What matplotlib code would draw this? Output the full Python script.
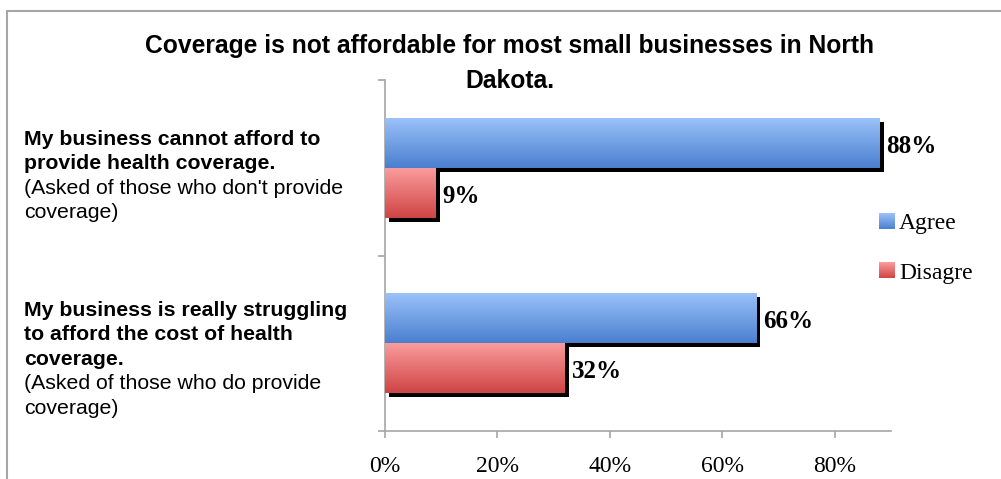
import numpy as np
import matplotlib
matplotlib.use('Agg')
import matplotlib.pyplot as plt
from matplotlib.colors import LinearSegmentedColormap
from matplotlib.patches import Patch, Rectangle
from matplotlib.legend_handler import HandlerBase
from matplotlib.image import BboxImage
from matplotlib.transforms import Bbox, TransformedBbox
import matplotlib.patheffects as pe

# Datos del grafico
series = ['Agree', 'Disagre']
agree = [88, 66]
disagree = [9, 32]
x_ticks = [0, 20, 40, 60, 80]

titulo = ['Coverage is not affordable for most small businesses in North', 'Dakota.']
cat_bold = [['My business cannot afford to', 'provide health coverage.'],
            ['My business is really struggling', 'to afford the cost of health', 'coverage.']]
cat_note = [["(Asked of those who don't provide", 'coverage)'],
            ['(Asked of those who do provide', 'coverage)']]

W, H = 1001, 479
fig = plt.figure(figsize=(W / 100, H / 100), dpi=100)

# marco gris del grafico
fig.add_artist(Rectangle((7 / W, -0.1), 1.2, 1 - 11 / H + 0.1, transform=fig.transFigure,
                         fill=False, edgecolor='#a6a6a6', linewidth=1.5))

ax = fig.add_axes([385 / W, 1 - 431 / H, (891 - 385) / W, (431 - 80) / H])

colores = {'Agree': ('#9cc3fa', '#4a7fcf'), 'Disagre': ('#fb9e9e', '#cf4444')}
medio = {'Agree': '#6f9de6', 'Disagre': '#e77070'}
cmaps = {n: LinearSegmentedColormap.from_list(n, colores[n]) for n in series}
grad = np.linspace(0, 1, 256).reshape(-1, 1)

y = np.arange(len(agree))
h = 0.285
barras = []
for vals, off, nombre in [(agree, -h / 2, 'Agree'), (disagree, h / 2, 'Disagre')]:
    b = ax.barh(y + off, vals, height=h, color=medio[nombre], linewidth=0, zorder=2)
    for r in b:
        r.set_path_effects([pe.SimplePatchShadow(offset=(3, -3), shadow_rgbFace='black', alpha=1.0),
                            pe.Normal()])
    barras.append((b, nombre))

# degradado de cada barra
for b, nombre in barras:
    for r in b:
        x0, y0 = r.get_x(), r.get_y()
        im = ax.imshow(grad, cmap=cmaps[nombre], aspect='auto', origin='upper',
                       extent=(x0, x0 + r.get_width(), y0 + r.get_height(), y0),
                       zorder=3, interpolation='bilinear')
        im.set_clip_path(r)

# etiquetas de valores
for b, nombre in barras:
    for r in b:
        v = r.get_width()
        ax.text(v + 1.2, r.get_y() + r.get_height() / 2 + 0.02, f'{v:.0f}%', va='center', ha='left',
                fontsize=18, fontweight='bold', family='Liberation Serif', zorder=4)

ax.set_xlim(0, 90)
ax.set_ylim(1.5, -0.5)
ax.set_xticks(x_ticks)
ax.set_xticklabels([f'{t}%' for t in x_ticks], family='Liberation Serif', fontsize=17)
ax.set_yticks([-0.5, 0.5, 1.5])
ax.set_yticklabels([])
ax.tick_params(axis='both', color='#a6a6a6', length=5, width=1.2)
ax.tick_params(axis='x', pad=13)
for s in ['top', 'right']:
    ax.spines[s].set_visible(False)
for s in ['left', 'bottom']:
    ax.spines[s].set_color('#a6a6a6')
    ax.spines[s].set_linewidth(1.2)


# cuadritos de leyenda con degradado
class HandlerGrad(HandlerBase):
    def create_artists(self, legend, orig_handle, xdescent, ydescent, width, height, fontsize, trans):
        bb = TransformedBbox(Bbox.from_bounds(-xdescent, -ydescent, width, height), trans)
        img = BboxImage(bb, cmap=cmaps[orig_handle.get_label()], interpolation='bilinear')
        img.set_data(grad)
        return [img]


handles = [Patch(facecolor=medio[n], edgecolor='none', label=n) for n in series]
fig.legend(handles, series, loc='upper left', bbox_to_anchor=(879 / W, 1 - 213 / H),
           frameon=False, prop={'family': 'Liberation Serif', 'size': 17},
           handlelength=0.65, handleheight=0.65, handletextpad=0.2, labelspacing=1.2,
           borderpad=0, borderaxespad=0, handler_map={Patch: HandlerGrad()})

# titulo en dos lineas
fig.text(510 / W, 1 - 53 / H, titulo[0], ha='center', va='baseline', fontsize=17.7,
         fontweight='bold', family='Liberation Sans')
fig.text(510 / W, 1 - 88 / H, titulo[1], ha='center', va='baseline', fontsize=17.7,
         fontweight='bold', family='Liberation Sans')

# etiquetas de categorias
paso = 24.4
for base, negrita, nota in zip([145, 316], cat_bold, cat_note):
    yy = base
    for linea in negrita:
        fig.text(24 / W, 1 - yy / H, linea, ha='left', va='baseline', fontsize=15.3,
                 fontweight='bold', family='Liberation Sans')
        yy += paso
    for linea in nota:
        fig.text(24 / W, 1 - yy / H, linea, ha='left', va='baseline', fontsize=15.3,
                 family='Liberation Sans')
        yy += paso

fig.savefig('out.png', dpi=100)
